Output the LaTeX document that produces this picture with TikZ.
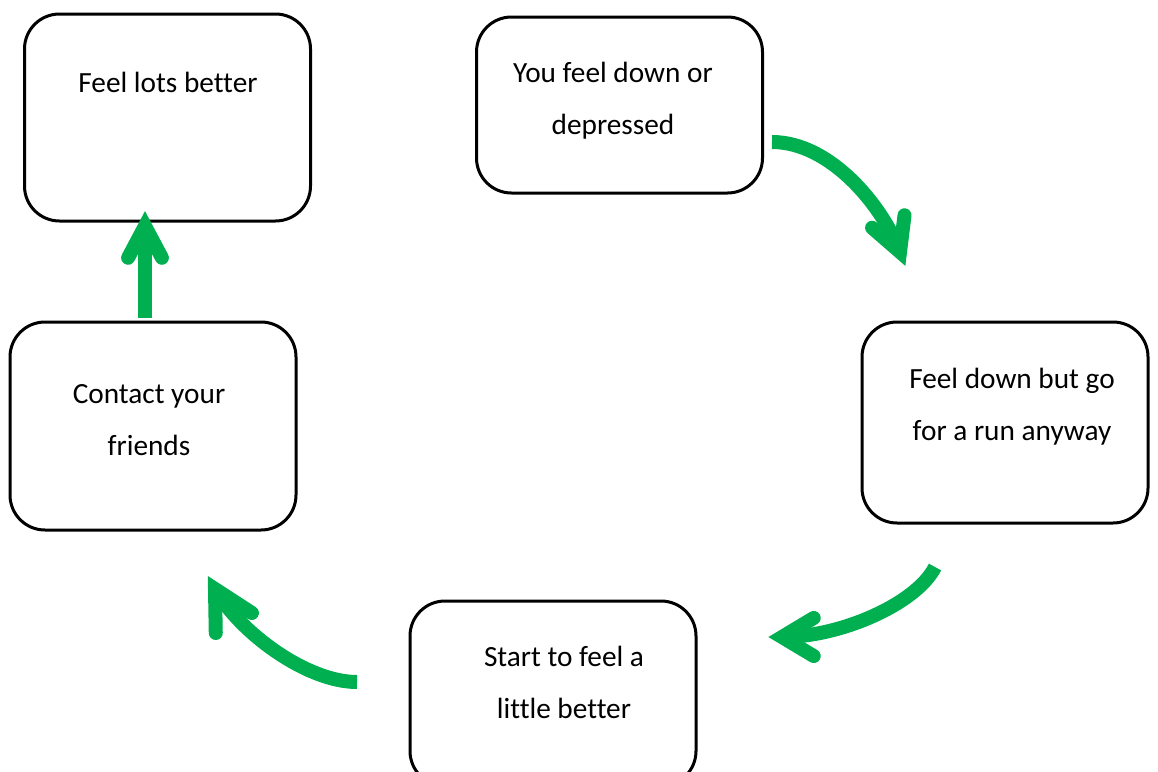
\documentclass[tikz,border=0pt]{standalone}
\usepackage{fontspec}
\setmainfont{Carlito}[Ligatures=CommonOff]
\usetikzlibrary{calc}
\definecolor{cyclegreen}{RGB}{0,176,80}

% open chevron head: #1 tip, #2 heading, #3 half-angle, #4 arm length
\newcommand\chevronhead[4]{%
  \draw[headstroke] ([shift={(#2+180-#3:#4)}]#1) -- (#1) -- ([shift={(#2+180+#3:#4)}]#1);%
}

\begin{document}
\begin{tikzpicture}[x=1pt, y=-1pt,
  stepbox/.style={draw=black, line width=3pt, rounded corners=35pt, fill=white,
    inner sep=0pt, outer sep=0pt, minimum width=286pt, minimum height=#1},
  steptext/.style={align=center, inner sep=0pt, anchor=base,
    font=\fontsize{29.3}{52.5}\selectfont},
  flow/.style={draw=cyclegreen, line width=14pt},
  headstroke/.style={flow, line cap=round, line join=miter}]

\useasboundingbox (0,0) rectangle (1158,771);
\clip (0,0) rectangle (1158,771);

% the five steps of the cycle
\node[stepbox=207pt] (better)  at (167.5,117.5) {};
\node[stepbox=176pt] (down)    at (619.5,105)   {};
\node[stepbox=201pt] (run)     at (1005,422.5)  {};
\node[stepbox=185pt] (little)  at (553,693.5)   {};
\node[stepbox=208pt] (contact) at (153,426)     {};

% labels, placed by the baseline of their last line
\node[steptext] (betterT)  at (168,92)     {Feel lots better};
\node[steptext] (downT)    at (613,134.5)  {You feel down or\\depressed};
\node[steptext] (runT)     at (1012,440.5) {Feel down but go\\for a run anyway};
\node[steptext] (littleT)  at (564,718.5)  {Start to feel a\\little better};
\node[steptext] (contactT) at (149,455.5)  {Contact your\\friends};

% curved green arrows between the steps
\coordinate (a1s) at (772,142);
\coordinate (a1t) at (900,252);
\draw[flow] (a1s) .. controls (830,142) and (882,205) .. (a1t);
\chevronhead{a1t}{69}{28}{37}

\coordinate (a2s) at (935,567);
\coordinate (a2t) at (782,637);
\draw[flow] (a2s) .. controls (917,603) and (842,637) .. (a2t);
\chevronhead{a2t}{180}{31}{37}

\coordinate (a3s) at (357,682);
\coordinate (a3t) at (215,589);
\draw[flow] (a3s) .. controls (307,682) and (240,633) .. (a3t);
\chevronhead{a3t}{241}{28}{44}

\coordinate (a4s) at (145,318);
\coordinate (a4t) at (145,226);
\draw[flow] (a4s) -- (a4t);
\chevronhead{a4t}{270}{28}{36}

\end{tikzpicture}
\end{document}
